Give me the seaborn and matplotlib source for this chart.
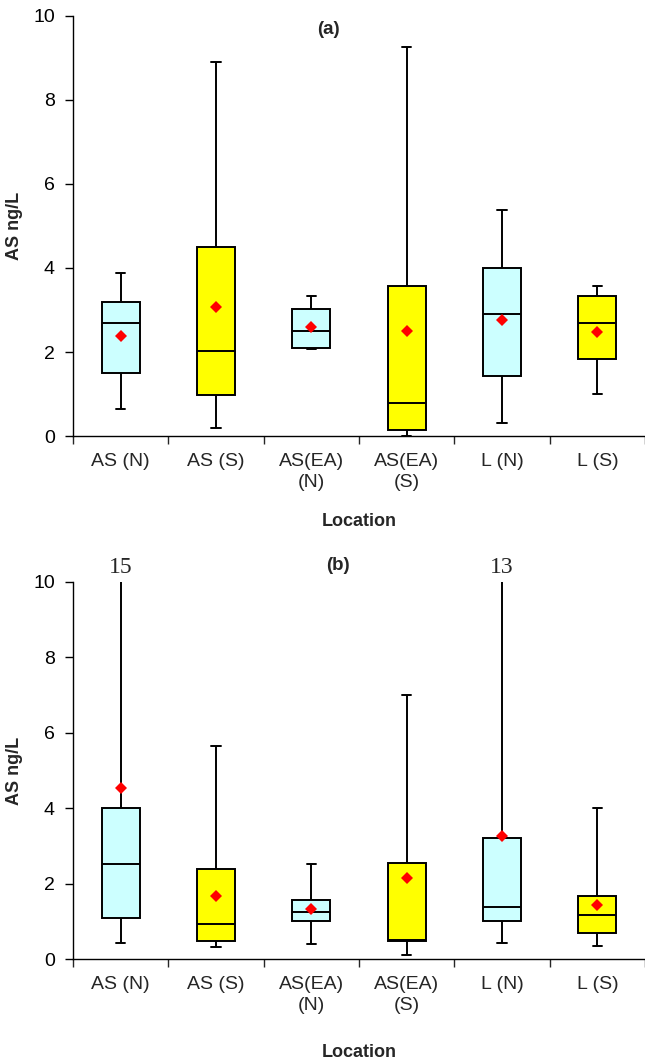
import numpy as np
import pandas as pd
import matplotlib
matplotlib.use("Agg")
import matplotlib.pyplot as plt
import seaborn as sns

# ---------------- data ----------------
categories = ["AS (N)", "AS (S)", "AS(EA) (N)", "AS(EA) (S)", "L (N)", "L (S)"]
tick_labels = ["AS (N)", "AS (S)", "AS(EA)\n(N)", "AS(EA)\n(S)", "L (N)", "L (S)"]
box_colors = ["#CCFFFF", "#FFFF00", "#CCFFFF", "#FFFF00", "#CCFFFF", "#FFFF00"]

# panel (a): five-number summaries and means
a_min = [0.64, 0.20, 2.07, 0.00, 0.31, 1.00]
a_q1 = [1.50, 0.98, 2.09, 0.14, 1.44, 1.84]
a_med = [2.69, 2.03, 2.50, 0.79, 2.90, 2.69]
a_q3 = [3.19, 4.50, 3.03, 3.58, 4.00, 3.34]
a_max = [3.88, 8.90, 3.34, 9.27, 5.38, 3.58]
a_mean = [2.38, 3.07, 2.60, 2.50, 2.77, 2.48]

# panel (b)
b_min = [0.43, 0.32, 0.39, 0.10, 0.43, 0.35]
b_q1 = [1.08, 0.49, 1.00, 0.49, 1.01, 0.68]
b_med = [2.51, 0.94, 1.24, 0.51, 1.39, 1.17]
b_q3 = [4.00, 2.40, 1.57, 2.54, 3.22, 1.67]
b_max = [15.0, 5.66, 2.51, 7.00, 13.0, 4.01]
b_mean = [4.53, 1.66, 1.33, 2.15, 3.25, 1.43]

# ---------------- style ----------------
sns.set_style("ticks")
plt.rcParams["font.family"] = ["Liberation Sans", "DejaVu Sans"]

fig = plt.figure(figsize=(6.45, 10.62), dpi=100)
ax_a = fig.add_axes([73 / 645, 1 - 436 / 1062, 1 - 73 / 645, 420 / 1062])
ax_b = fig.add_axes([73 / 645, 1 - 959 / 1062, 1 - 73 / 645, 377 / 1062])


def summary_frame(mins, q1s, meds, q3s, maxs):
    rows = []
    for c, lo, q1, md, q3, hi in zip(categories, mins, q1s, meds, q3s, maxs):
        for v in (lo, q1, md, q3, hi):
            rows.append({"Location": c, "value": v})
    return pd.DataFrame(rows)


def draw(ax, mins, q1s, meds, q3s, maxs, means, tag, label_y, tag_xy):
    df = summary_frame(mins, q1s, meds, q3s, maxs)
    sns.boxplot(data=df, x="Location", y="value", hue="Location",
                order=categories, hue_order=categories,
                palette=box_colors, saturation=1, legend=False, whis=np.inf,
                width=0.4, linecolor="black", linewidth=1.4,
                capwidths=0.1, showfliers=False, ax=ax)
    sns.pointplot(x=categories, y=means, order=categories, color="red",
                  markers="D", linestyles="none", errorbar=None,
                  markersize=6, markeredgewidth=0, ax=ax, zorder=5)
    ax.set_ylim(0, 10)
    ax.set_xlim(-0.5, 5.5)
    ax.set_yticks([0, 2, 4, 6, 8, 10])
    ax.set_yticklabels(["0", "2", "4", "6", "8", "10"], fontsize=14)
    ax.tick_params(axis="y", direction="out", length=6, width=1, pad=7,
                   colors="black")
    # boundary ticks (major), labels at centers (minor)
    ax.set_xticks(np.arange(-0.5, 6.0, 1.0))
    ax.set_xticklabels([""] * 7)
    ax.set_xticks(np.arange(6), minor=True)
    ax.set_xticklabels(tick_labels, minor=True, fontsize=14, linespacing=1.3)
    ax.tick_params(axis="x", which="major", direction="out", length=6, width=1)
    ax.tick_params(axis="x", which="minor", length=0, pad=12)
    for s in ("top", "right"):
        ax.spines[s].set_visible(False)
    for s in ("left", "bottom"):
        ax.spines[s].set_color("black")
        ax.spines[s].set_linewidth(1.0)
    ax.set_ylabel("AS ng/L", fontsize=13, fontweight="bold")
    ax.yaxis.set_label_coords(-0.088, 0.5)
    ax.set_xlabel("Location", fontsize=13, fontweight="bold")
    ax.xaxis.set_label_coords(0.5, label_y)
    ax.text(tag_xy[0], tag_xy[1], tag, fontsize=13.5, fontweight="bold",
            ha="center", va="center")


draw(ax_a, a_min, a_q1, a_med, a_q3, a_max, a_mean, "(a)", -0.183, (2.18, 9.67))
draw(ax_b, b_min, b_q1, b_med, b_q3, b_max, b_mean, "(b)", -0.225, (2.28, 10.45))
ax_b.texts[0].set_clip_on(False)

# labels for whiskers that exceed the axis
for i, v in enumerate(b_max):
    if v > 10:
        ax_b.text(i, 10.1, f"{v:g}", ha="center", va="bottom", fontsize=17,
                  family=["Liberation Serif", "DejaVu Serif"], clip_on=False)

fig.savefig("out.png", dpi=100)
